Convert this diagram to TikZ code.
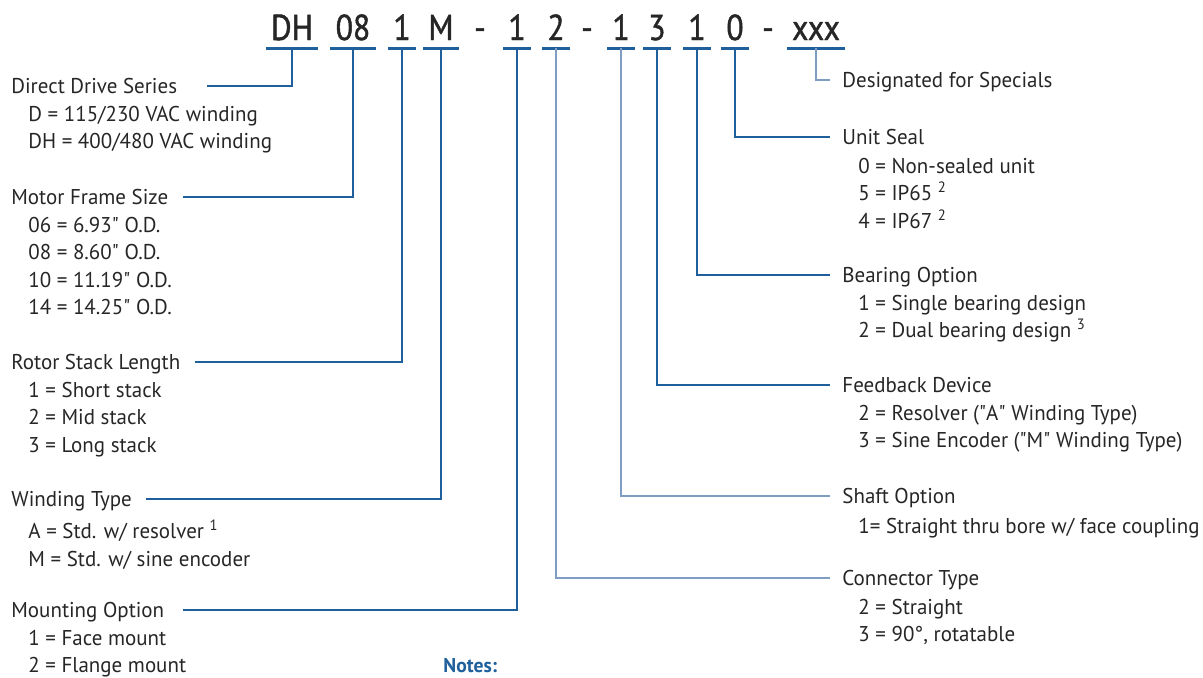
\documentclass[tikz,border=0pt]{standalone}
\usepackage{fontspec}
\setmainfont[FakeStretch=0.98]{PT Sans}
\newfontfamily\codefont[FakeStretch=0.88,FakeBold=1.2]{PT Sans}
\usetikzlibrary{positioning}
\definecolor{dblue}{HTML}{1E5F9C}
\definecolor{lblue}{HTML}{7F9CC2}
\definecolor{txt}{HTML}{262626}

\begin{document}
\begin{tikzpicture}[x=0.5pt,y=-0.5pt]
    \tikzstyle{cnode} = [anchor=base, inner xsep=2.5pt, inner ysep=4pt, text depth=0pt, text=txt, font=\codefont\fontsize{18}{18}\selectfont]
    \tikzstyle{lnode} = [anchor=west, inner sep=0pt, text height=7.5pt, text depth=0pt, text=txt, font=\fontsize{10.7}{13.7}\selectfont]
    \tikzstyle{inode} = [anchor=north west, inner sep=0pt, align=left, text=txt, font=\fontsize{10.7}{13.8}\selectfont, execute at begin node={\rule{0pt}{9pt}}]
    \tikzstyle{bar} = [draw=dblue, line width=1.5pt]
    \tikzstyle{wire} = [draw=dblue, line width=1pt]

    \useasboundingbox (0,0) rectangle (1203,677);

    % part number
    \node[cnode] (cDH) at (292,40) {DH};
    \node[cnode] (c08) at (353,40) {08};
    \node[cnode] (cst) at (402,40) {1};
    \node[cnode] (cwt) at (441,40) {M};
    \node[cnode] (d1) at (480,40) {-};
    \node[cnode] (cmo) at (517,40) {1};
    \node[cnode] (cct) at (556,40) {2};
    \node[cnode] (d2) at (587,40) {-};
    \node[cnode] (cso) at (621,40) {1};
    \node[cnode] (cfd) at (657,40) {3};
    \node[cnode] (cbo) at (697,40) {1};
    \node[cnode] (cus) at (735,40) {0};
    \node[cnode] (d3) at (768,40) {-};
    \node[cnode] (cxx) at (816,40) {xxx};
    \foreach \c in {cDH,c08,cst,cwt,cmo,cct,cso,cfd,cbo,cus,cxx}
        \draw[bar] (\c.south west) -- (\c.south east);

    % left side
    \node[lnode] (hdds) at (11,86) {Direct Drive Series};
    \node[inode] (idds) at (28,105.5) {D = 115/230 VAC winding\\DH = 400/480 VAC winding};

    \node[lnode] (hmfs) at (11,197) {Motor Frame Size};
    \node[inode] (imfs) at (28,216.5) {06 = 6.93\textquotedbl{} O.D.\\08 = 8.60\textquotedbl{} O.D.\\10 = 11.19\textquotedbl{} O.D.\\14 = 14.25\textquotedbl{} O.D.};

    \node[lnode] (hrsl) at (11,362) {Rotor Stack Length};
    \node[inode] (irsl) at (28,381.5) {1 = Short stack\\2 = Mid stack\\3 = Long stack};

    \node[lnode] (hwt) at (11,499) {Winding Type};
    \node[inode] (iwt) at (28,519.5) {A = Std. w/ resolver \textsuperscript{1}\\M = Std. w/ sine encoder};

    \node[lnode] (hmo) at (11,610) {Mounting Option};
    \node[inode] (imo) at (28,629.5) {1 = Face mount\\2 = Flange mount};

    \node[lnode, text=dblue, font=\fontsize{10}{12}\bfseries] (notes) at (443,665) {Notes:};

    % right side
    \node[lnode] (hdfs) at (842,80) {Designated for Specials};

    \node[lnode] (hus) at (842,137) {Unit Seal};
    \node[inode] (ius) at (858,157.5) {0 = Non-sealed unit\\5 = IP65 \textsuperscript{2}\\4 = IP67 \textsuperscript{2}};

    \node[lnode] (hbo) at (842,275) {Bearing Option};
    \node[inode] (ibo) at (858,294.5) {1 = Single bearing design\\2 = Dual bearing design \textsuperscript{3}};

    \node[lnode] (hfd) at (842,385) {Feedback Device};
    \node[inode] (ifd) at (858,404.5) {2 = Resolver (\textquotedbl A\textquotedbl{} Winding Type)\\3 = Sine Encoder (\textquotedbl M\textquotedbl{} Winding Type)};

    \node[lnode] (hso) at (842,496) {Shaft Option};
    \node[inode] (iso) at (858,515.5) {1= Straight thru bore w/ face coupling};

    \node[lnode] (hct) at (842,578) {Connector Type};
    \node[inode] (ict) at (858,598.5) {2 = Straight\\3 = 90°, rotatable};

    % leader lines
    \draw[wire, shorten <=15pt] (hdds) -| (cDH);
    \draw[wire, shorten <=7pt] (hmfs) -| (c08);
    \draw[wire, shorten <=7pt] (hrsl) -| (cst);
    \draw[wire, shorten <=7pt] (hwt) -| (cwt);
    \draw[wire, shorten <=9pt] (hmo) -| (cmo);

    \draw[wire, draw=lblue, shorten >=6pt] (cct) |- (hct);
    \draw[wire, draw=lblue, shorten >=6pt] (cso) |- (hso);
    \draw[wire, shorten >=6pt] (cfd) |- (hfd);
    \draw[wire, shorten >=6pt] (cbo) |- (hbo);
    \draw[wire, shorten >=6pt] (cus) |- (hus);
    \draw[wire, draw=lblue, shorten >=6pt] (cxx) |- (hdfs);
\end{tikzpicture}
\end{document}
